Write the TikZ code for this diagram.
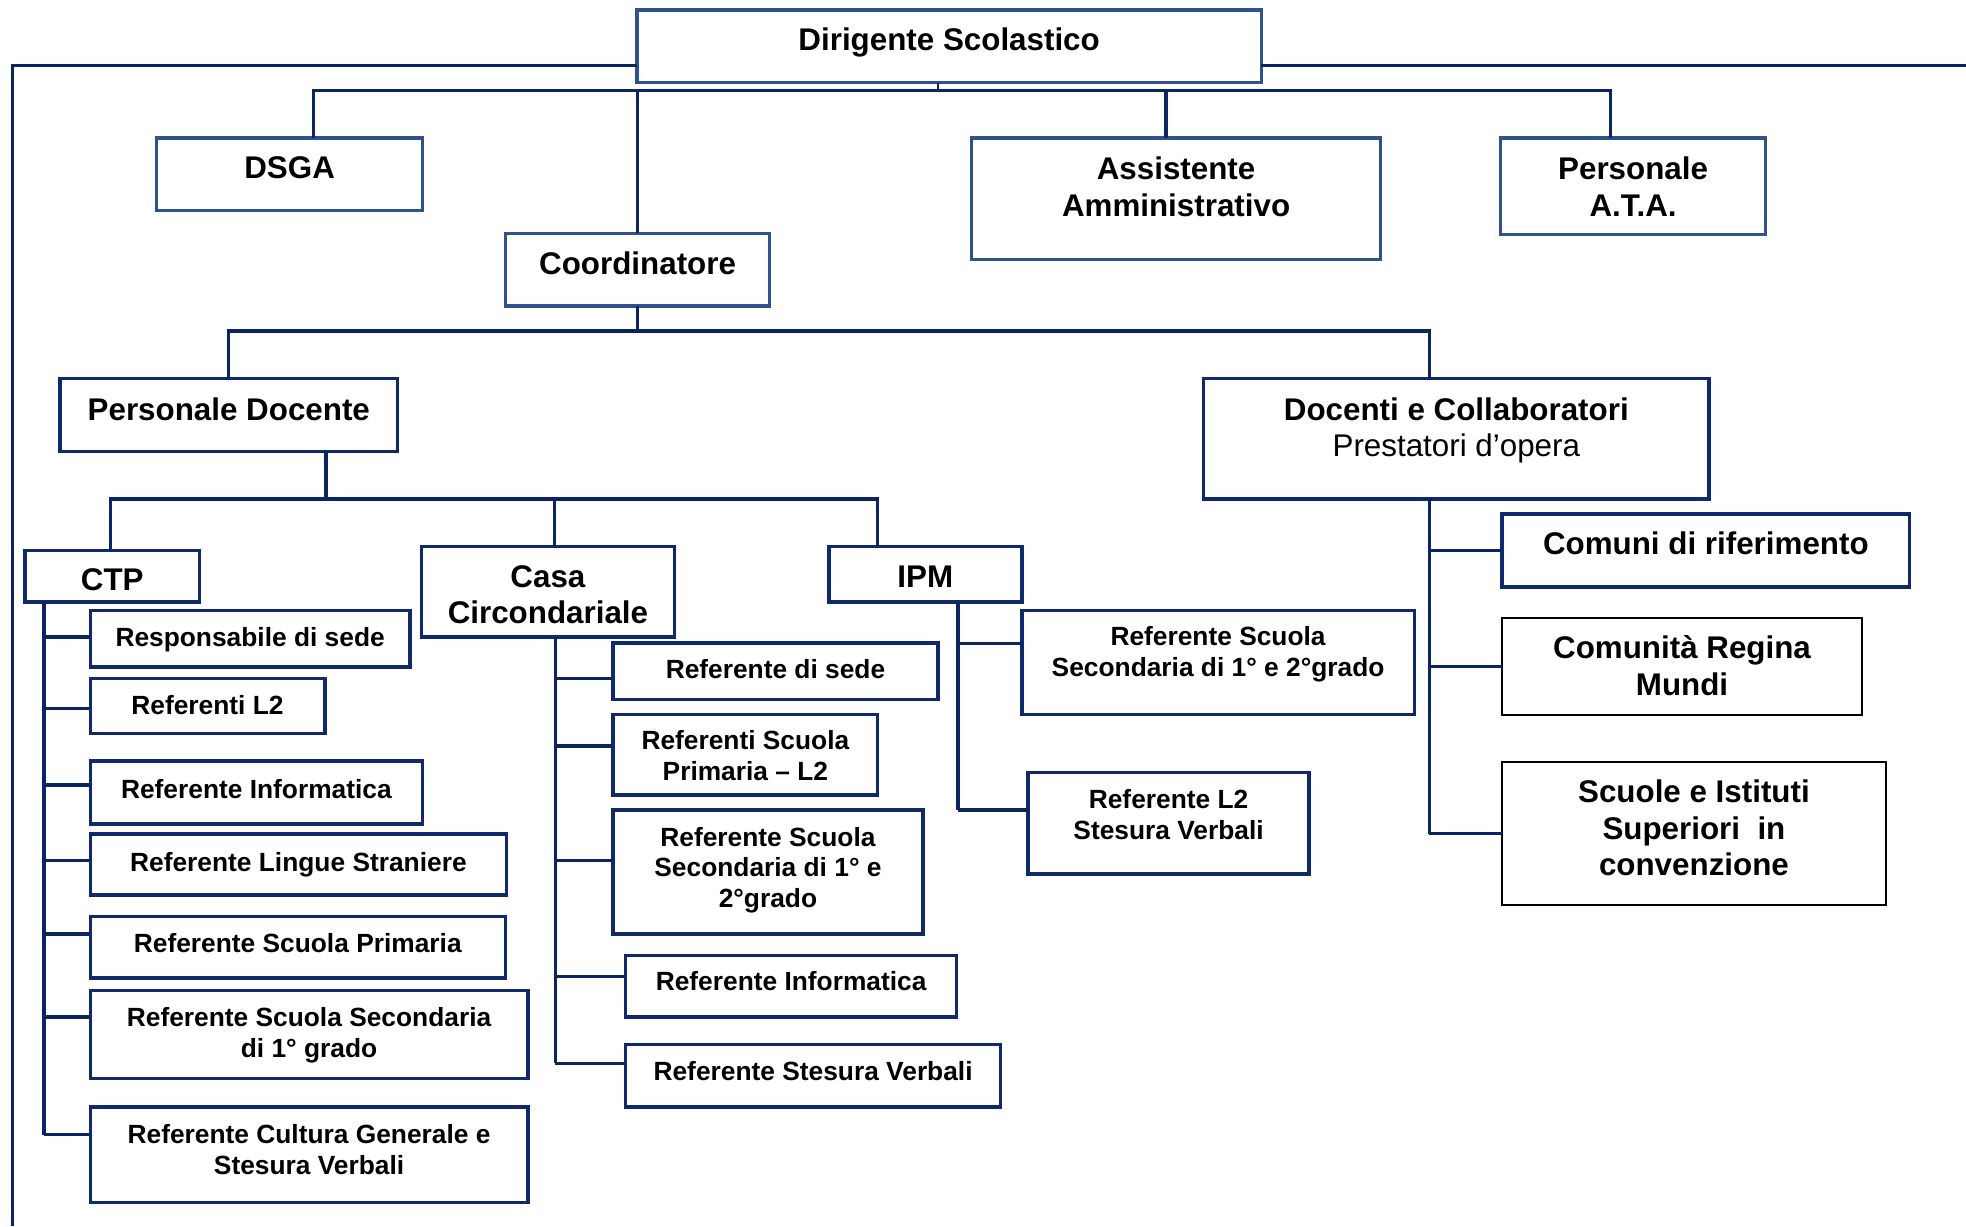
\documentclass[tikz,border=0pt]{standalone}
\usepackage{fontspec}
\setmainfont{Liberation Sans}
\definecolor{topblue}{HTML}{2F528F}
\definecolor{navy}{HTML}{10296B}
\definecolor{connc}{HTML}{0C2461}
\newcommand\obox[9]{%
  \node[#1, minimum width={(#6-#4)*1pt}, minimum height={(#7-#5)*1pt}] (#3) at ({(#4+#6)/2},{(#5+#7)/2}) {};
  \node[#2, anchor=north, align=center, inner sep=0pt] (#3-t) at ({(#4+#6)/2},#8) {#9};
}
\newcommand\brc[3]{%
  \path ([yshift=#3pt]#2.west) coordinate (#2-in);
  \draw[conn] (#1 |- #2-in) -- (#2-in);
}
\begin{document}
\begin{tikzpicture}[x=1pt,y=-1pt,
  bxa/.style={draw=topblue, line width=2.6pt, inner sep=0pt, outer sep=0pt, rectangle},
  bxn/.style={draw=navy, line width=2.8pt, inner sep=0pt, outer sep=0pt, rectangle},
  bxk/.style={draw=black, line width=1.6pt, inner sep=0pt, outer sep=0pt, rectangle},
  big/.style={font=\fontsize{25}{29}\selectfont\bfseries},
  small/.style={font=\fontsize{21}{24.5}\selectfont\bfseries},
  conn/.style={draw=connc, line width=2.6pt}]
\useasboundingbox (0,0) rectangle (1568,978);

% top level
\obox{bxa}{big}{dir}{508}{8}{1006}{66}{22}{Dirigente Scolastico}
\obox{bxa}{big}{dsga}{125}{110}{337}{168}{125}{DSGA}
\obox{bxa}{big}{asst}{775}{110}{1101}{207}{125}{Assistente\\Amministrativo}
\obox{bxa}{big}{ata}{1197}{110}{1408}{187}{125}{Personale\\A.T.A.}
\obox{bxa}{big}{coord}{403}{186}{614}{244}{201}{Coordinatore}
\obox{bxn}{big}{pd}{48}{302}{317}{360}{317}{Personale Docente}
\obox{bxn}{big}{doc}{960}{302}{1363}{398}{317}{Docenti e Collaboratori\\{\mdseries Prestatori d’opera}}
\obox{bxn}{big}{ctp}{20}{439}{159}{480}{453}{CTP}
\obox{bxn}{big}{casa}{336}{436}{538}{508}{451}{Casa\\Circondariale}
\obox{bxn}{big}{ipm}{661}{436}{815}{480}{451}{IPM}

% CTP children
\obox{bxn}{small}{r1}{72}{487}{327}{532}{500.5}{Responsabile di sede}
\obox{bxn}{small}{r2}{72}{541}{259}{585}{554.5}{Referenti L2}
\obox{bxn}{small}{r3}{72}{607}{337}{657}{621.5}{Referente Informatica}
\obox{bxn}{small}{r4}{72}{665}{404}{714}{679.5}{Referente Lingue Straniere}
\obox{bxn}{small}{r5}{72}{731}{403}{780}{744.5}{Referente Scuola Primaria}
\obox{bxn}{small}{r6}{72}{790}{421}{860}{803.5}{Referente Scuola Secondaria\\di 1° grado}
\obox{bxn}{small}{r7}{72}{883}{421}{959}{896.5}{Referente Cultura Generale e\\Stesura Verbali}

% Casa children
\obox{bxn}{small}{c1}{489}{513}{748}{558}{525.5}{Referente di sede}
\obox{bxn}{small}{c2}{489}{570}{700}{634}{582.5}{Referenti Scuola\\Primaria – L2}
\obox{bxn}{small}{c3}{489}{646}{736}{745}{659.5}{Referente Scuola\\Secondaria di 1° e\\2°grado}
\obox{bxn}{small}{c4}{499}{762}{763}{811}{774.5}{Referente Informatica}
\obox{bxn}{small}{c5}{499}{833}{798}{883}{846.5}{Referente Stesura Verbali}

% IPM children
\obox{bxn}{small}{i1}{815}{487}{1128}{570}{499.5}{Referente Scuola\\Secondaria di 1° e 2°grado}
\obox{bxn}{small}{i2}{820}{616}{1044}{697}{629.5}{Referente L2\\Stesura Verbali}

% Docenti children
\obox{bxn}{big}{d1}{1198}{410}{1523}{468}{424}{Comuni di riferimento}
\obox{bxk}{big}{d2}{1198}{493}{1485}{570}{507}{Comunità Regina\\Mundi}
\obox{bxk}{big}{d3}{1198}{608}{1504}{722}{622}{Scuole e Istituti\\Superiori\ \ in\\convenzione}

% outer frame
\coordinate (fbl) at (10,978);
\coordinate (fr) at (1568,52);
\draw[conn] ([yshift=-15pt]dir.west) -| (fbl);
\draw[conn] ([yshift=-15pt]dir.east) -- (fr);

% first bar
\draw[conn, line width=1pt] ([xshift=-9pt]dir.south) -- ++(0,6);
\draw[conn] ([xshift=19pt]dsga.north) -- ++(0,-38) -| ([xshift=-18pt]ata.north);
\draw[conn] ([xshift=-8pt]asst.north) -- ++(0,-38);
\draw[conn] (coord.north) -- ++(0,-114);

% second bar
\draw[conn] (coord.south) -- ++(0,20) coordinate (j2);
\draw[conn] (pd.north) |- (j2) -| ([xshift=-21.5pt]doc.north);

% third bar
\draw[conn] ([xshift=77.5pt]pd.south) -- ++(0,38) coordinate (j3);
\draw[conn] ([xshift=-1.5pt]ctp.north) |- (j3) -| ([xshift=-38pt]ipm.north);
\draw[conn] ([xshift=5pt]casa.north) -- ++(0,-38);

% trunks
\path ([xshift=15pt]ctp.south west) coordinate (ctr);
\path ([xshift=6pt]casa.south) coordinate (catr);
\path ([xshift=26pt]ipm.south) coordinate (iptr);
\path ([xshift=-21.5pt]doc.south) coordinate (dtr);

\brc{ctr}{r1}{1.5}
\brc{ctr}{r2}{-2}
\brc{ctr}{r3}{6}
\brc{ctr}{r4}{3.5}
\brc{ctr}{r5}{10.5}
\brc{ctr}{r6}{14}
\brc{ctr}{r7}{16}
\draw[conn] (ctr) -- (ctr |- r7-in);

\brc{catr}{c1}{-5.5}
\brc{catr}{c2}{7}
\brc{catr}{c3}{9.5}
\brc{catr}{c4}{7.5}
\brc{catr}{c5}{10}
\draw[conn] (catr) -- (catr |- c5-in);

\brc{iptr}{i1}{15.5}
\brc{iptr}{i2}{10.5}
\draw[conn] (iptr) -- (iptr |- i2-in);

\brc{dtr}{d1}{0}
\brc{dtr}{d2}{0}
\brc{dtr}{d3}{0}
\draw[conn] (dtr) -- (dtr |- d3-in);
\end{tikzpicture}
\end{document}
